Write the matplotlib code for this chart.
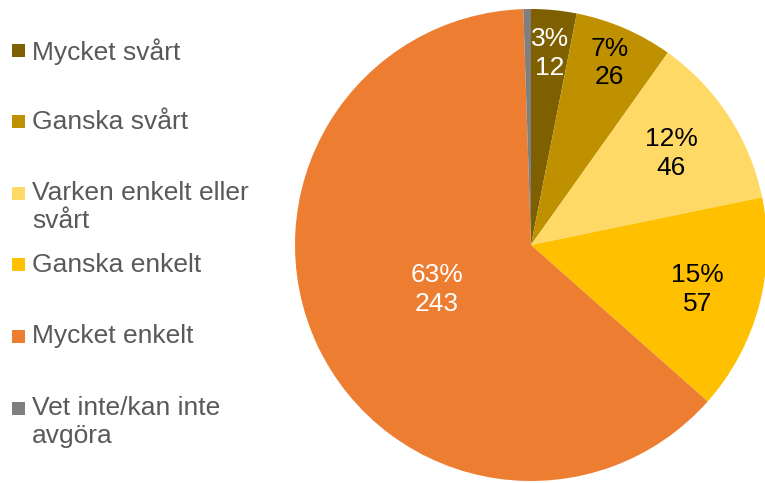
import numpy as np
import matplotlib
matplotlib.use("Agg")
import matplotlib.pyplot as plt
from matplotlib.patches import Rectangle

categories = ["Mycket svårt", "Ganska svårt", "Varken enkelt eller\nsvårt",
              "Ganska enkelt", "Mycket enkelt", "Vet inte/kan inte\navgöra"]
values = [12, 26, 46, 57, 243, 2]
colors = ["#7F6000", "#BF9000", "#FFD966", "#FFC000", "#ED7D31", "#7F7F7F"]
label_colors = ["white", "black", "black", "black", "white", None]
label_radii = [0.815, 0.84, 0.71, 0.73, 0.44, None]

plt.rcParams['font.family'] = ['Liberation Sans', 'DejaVu Sans']

W, H = 765, 483
fig = plt.figure(figsize=(W / 100, H / 100), dpi=100)
ax = fig.add_axes([295 / W, 2 / H, 472 / W, 472 / H])
wedges, _ = ax.pie(values, colors=colors, startangle=90, counterclock=False,
                   radius=1, wedgeprops=dict(linewidth=0))
ax.set_xlim(-1, 1)
ax.set_ylim(-1, 1)
ax.set_aspect('equal')
ax.axis('off')

total = sum(values)
cum = np.cumsum([0] + values)
for i, v in enumerate(values):
    if label_radii[i] is None:
        continue
    mid = (cum[i] + v / 2) / total
    ang = np.deg2rad(90 - 360 * mid)
    r = label_radii[i]
    pct = round(100 * v / total)
    ax.text(r * np.cos(ang), r * np.sin(ang), f"{pct}%\n{v}", ha='center', va='center',
            color=label_colors[i], fontsize=19, linespacing=1.25)

# legend with equal slots, marker aligned with first text line
slot_top, slot_step = 50, 71.6
for i, (lab, c) in enumerate(zip(categories, colors)):
    yc = slot_top + slot_step * i  # pixel from top (first-line centre)
    fig.patches.append(Rectangle((12 / W, 1 - (yc + 6.5) / H), 13 / W, 13 / H,
                                 transform=fig.transFigure, facecolor=c,
                                 edgecolor='none'))
    fig.text(32 / W, 1 - (yc - 12) / H, lab, ha='left', va='top', fontsize=19,
             color="#595959", linespacing=1.2)

fig.savefig("out.png", dpi=100)
